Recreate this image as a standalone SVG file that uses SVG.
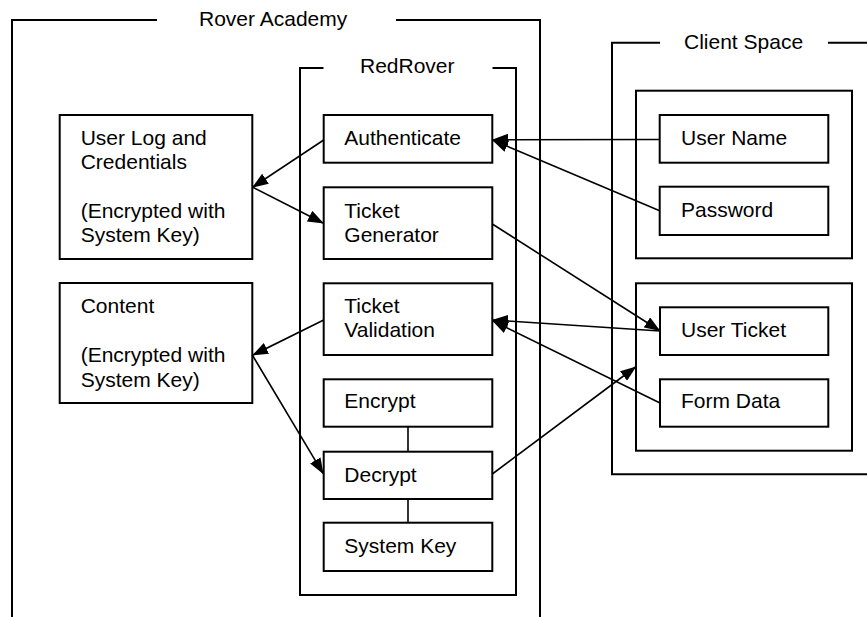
<svg xmlns="http://www.w3.org/2000/svg" width="867" height="617" viewBox="0 0 867 617">
<style>
  .frame{fill:none;stroke:#000;stroke-width:2}
  .box{fill:#fff;stroke:#000;stroke-width:2}
  .t{font-family:"Liberation Sans",Arial,sans-serif;font-size:21px;fill:#000}
  .c{fill:none;stroke:#000;stroke-width:1.6}
  .a{marker-end:url(#ah)}
</style>
<defs>
  <marker id="ah" markerUnits="userSpaceOnUse" markerWidth="16" markerHeight="12" refX="15" refY="6" orient="auto" viewBox="0 0 16 12">
    <path d="M0,0 L16,6 L0,12 z" fill="#000"/>
  </marker>
</defs>
<rect width="867" height="617" fill="#fff"/>

<g id="rover-academy">
  <path class="frame" d="M157,20 H12 V620 M396,20 H540 V620"/>
  <text class="t" x="199" y="25.5">Rover Academy</text>
</g>

<g id="redrover">
  <path class="frame" d="M323.5,68 H300 V595 H516 V68 H492.5"/>
  <text class="t" x="360" y="72.5">RedRover</text>
</g>

<g id="client-space">
  <path class="frame" d="M660,42.7 H612 V474.3 H870 M828,42.7 H870"/>
  <text class="t" x="684" y="49">Client Space</text>
</g>

<g id="client-group-1"><rect class="box" x="636" y="90.7" width="216" height="167.6"/></g>
<g id="client-group-2"><rect class="box" x="636" y="283.3" width="216" height="167.4"/></g>

<g id="user-log">
  <rect class="box" x="59.7" y="115" width="192.6" height="144"/>
  <text class="t" x="80.7" y="145">User Log and</text>
  <text class="t" x="80.7" y="169.3">Credentials</text>
  <text class="t" x="80.7" y="218">(Encrypted with</text>
  <text class="t" x="80.7" y="242.3">System Key)</text>
</g>

<g id="content">
  <rect class="box" x="59.7" y="283" width="192.6" height="120"/>
  <text class="t" x="80.7" y="313.3">Content</text>
  <text class="t" x="80.7" y="362.3">(Encrypted with</text>
  <text class="t" x="80.7" y="386.6">System Key)</text>
</g>

<g id="authenticate">
  <rect class="box" x="323.7" y="115" width="168.6" height="47.7"/>
  <text class="t" x="344.3" y="145">Authenticate</text>
</g>

<g id="ticket-generator">
  <rect class="box" x="323.7" y="187.3" width="168.6" height="71.7"/>
  <text class="t" x="344.3" y="217.7">Ticket</text>
  <text class="t" x="344.3" y="241.7">Generator</text>
</g>

<g id="ticket-validation">
  <rect class="box" x="323.7" y="283.3" width="168.6" height="71.7"/>
  <text class="t" x="344.3" y="313.3">Ticket</text>
  <text class="t" x="344.3" y="337.3">Validation</text>
</g>

<g id="encrypt">
  <rect class="box" x="323.7" y="379.3" width="168.6" height="47.4"/>
  <text class="t" x="344.3" y="408.3">Encrypt</text>
</g>

<g id="decrypt">
  <rect class="box" x="323.7" y="451.7" width="168.6" height="47.3"/>
  <text class="t" x="344.3" y="481.7">Decrypt</text>
</g>

<g id="system-key">
  <rect class="box" x="323.7" y="522.7" width="168.6" height="48.3"/>
  <text class="t" x="344.3" y="553.3">System Key</text>
</g>

<g id="user-name">
  <rect class="box" x="659.7" y="115" width="168.6" height="47.7"/>
  <text class="t" x="681" y="145">User Name</text>
</g>

<g id="password">
  <rect class="box" x="659.7" y="186.7" width="168.6" height="48.3"/>
  <text class="t" x="681" y="216.7">Password</text>
</g>

<g id="user-ticket">
  <rect class="box" x="660" y="307.3" width="168.3" height="47.7"/>
  <text class="t" x="681" y="336.7">User Ticket</text>
</g>

<g id="form-data">
  <rect class="box" x="660" y="379.3" width="168.3" height="47.4"/>
  <text class="t" x="681" y="408.3">Form Data</text>
</g>

<g id="connectors">
  <line class="c a" x1="323.7" y1="140" x2="253" y2="187"/>
  <line class="c a" x1="252.3" y1="187" x2="323" y2="223"/>
  <line class="c a" x1="659.7" y1="139.5" x2="493" y2="139.8"/>
  <line class="c a" x1="659.7" y1="210.7" x2="493" y2="140.3"/>
  <line class="c a" x1="492.3" y1="224" x2="659.5" y2="330.5"/>
  <line class="c a" x1="660" y1="331" x2="493" y2="320"/>
  <line class="c a" x1="660" y1="403" x2="493" y2="321"/>
  <line class="c a" x1="323.7" y1="320" x2="253" y2="355"/>
  <line class="c a" x1="252.3" y1="355" x2="323" y2="473.3"/>
  <line class="c a" x1="492.3" y1="474" x2="635.5" y2="367"/>
  <line class="c" x1="408" y1="426.7" x2="408" y2="451.7"/>
  <line class="c" x1="408" y1="499" x2="408" y2="522.7"/>
</g>
</svg>
